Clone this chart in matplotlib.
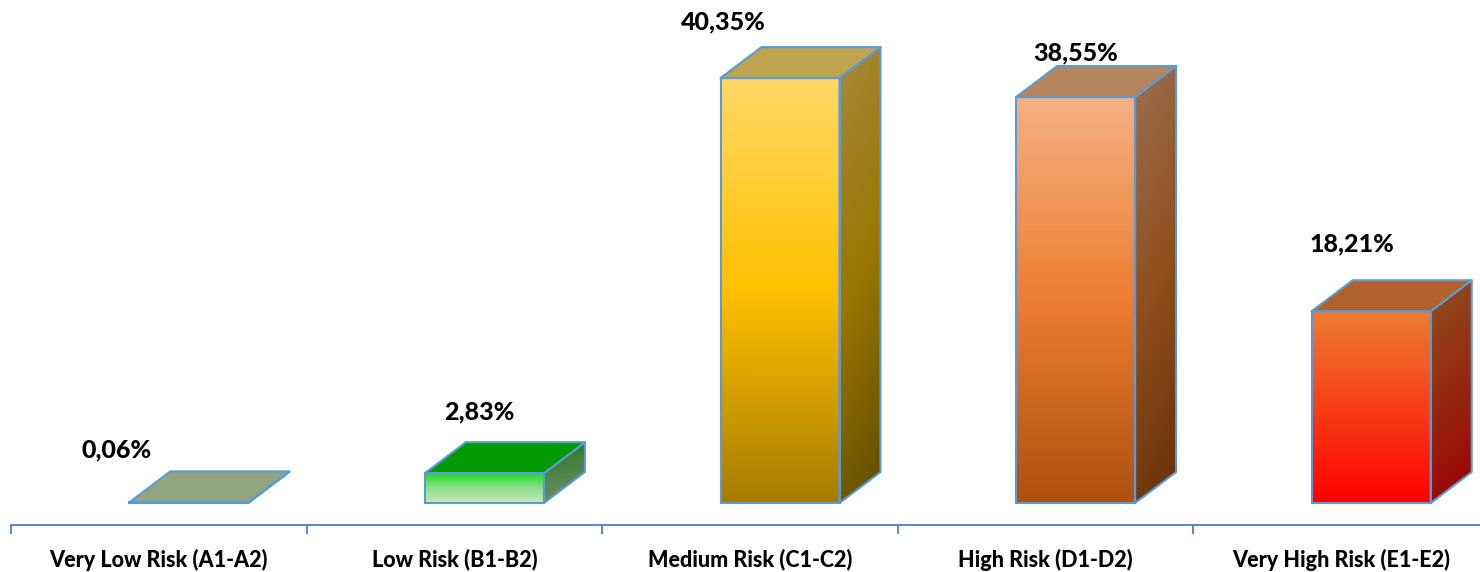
import numpy as np
import matplotlib
matplotlib.use('Agg')
import matplotlib.pyplot as plt
from matplotlib.colors import LinearSegmentedColormap
from matplotlib.patches import Polygon

plt.rcParams['font.family'] = ['Lato', 'DejaVu Sans']

categories = ["Very Low Risk (A1-A2)", "Low Risk (B1-B2)", "Medium Risk (C1-C2)",
              "High Risk (D1-D2)", "Very High Risk (E1-E2)"]
values = [0.06, 2.83, 40.35, 38.55, 18.21]
labels = ["0,06%", "2,83%", "40,35%", "38,55%", "18,21%"]

# Label offsets from the top of the front face, pixels
label_dx = [-72, -5, -57, 0, -19]
label_dy = [53, 61, 56, 44, 67]

# Colours
top_colors = ["#92a57e", "#009a00", "#c0a34f", "#b5855f", "#b1622b"]
front_colors = [["#92a57e", "#92a57e"],
                ["#1fd81f", "#8fdf8f", "#c8e6b8"],
                ["#ffd966", "#ffc000", "#a67c00"],
                ["#f4b183", "#ed7d31", "#ae5010"],
                ["#ed7d31", "#ff0000"]]
side_colors = [["#92a57e", "#92a57e"],
               ["#1f7a1f", "#7f8f70"],
               ["#a48a3c", "#9a7600", "#5f4c00"],
               ["#9c6f4f", "#8f4f1e", "#663009"],
               ["#8f5020", "#9c0000"]]
edge_color = "#5b9bd5"
axis_color = "#4472c4"

W, H = 1480, 572
px_per_unit = 10.53
cat_px = 295.6
base_px = 503
axis_px = 525

bar_w = 119 / cat_px
bar_shift = 30 / cat_px
depth_x = 41 / cat_px
depth_y = 31 / px_per_unit

fig = plt.figure(figsize=(W / 100, H / 100), dpi=100)
ax = fig.add_axes([11 / W, (H - axis_px) / H, 5 * cat_px / W, axis_px / H])

ymin = -(axis_px - base_px) / px_per_unit
ymax = base_px / px_per_unit


def gradient(colors, extent, clip, tilt=0.0):
    cmap = LinearSegmentedColormap.from_list('g', colors)
    u, v = np.meshgrid(np.linspace(0, 1, 80), np.linspace(0, 1, 256))
    t = (1 - tilt) * v + tilt * u
    im = ax.imshow(t, cmap=cmap, vmin=0, vmax=1, extent=extent, origin='upper',
                   aspect='auto', interpolation='bilinear', zorder=2)
    im.set_clip_path(clip)


xs = np.arange(len(values)) + 0.5 + bar_shift
for i, (x, val) in enumerate(zip(xs, values)):
    x0 = x - bar_w / 2
    x1 = x + bar_w / 2

    # side face
    side = Polygon([(x1, 0), (x1 + depth_x, depth_y), (x1 + depth_x, val + depth_y), (x1, val)],
                   closed=True, facecolor='none', edgecolor=edge_color, lw=1.5,
                   joinstyle='round', zorder=3)
    ax.add_patch(side)
    gradient(side_colors[i], [x1, x1 + depth_x, 0, val + depth_y], side, tilt=0.15)

    # top face
    ax.add_patch(Polygon([(x0, val), (x0 + depth_x, val + depth_y),
                          (x1 + depth_x, val + depth_y), (x1, val)],
                         closed=True, facecolor=top_colors[i], edgecolor=edge_color,
                         lw=1.5, joinstyle='round', zorder=3))

    # front face
    front = ax.bar(x, val, bar_w, facecolor='none', edgecolor=edge_color, lw=1.5, zorder=4)[0]
    gradient(front_colors[i], [x0, x1, 0, val], front)

    ax.annotate(labels[i], xy=(x, val), xytext=(label_dx[i], label_dy[i]),
                textcoords='offset pixels', ha='center', va='center',
                fontsize=18, fontweight=900, color='black', zorder=5)

ax.set_xlim(0, 5)
ax.set_ylim(ymin, ymax)
ax.patch.set_visible(False)
for s in ['top', 'left', 'right']:
    ax.spines[s].set_visible(False)
ax.spines['bottom'].set_color(axis_color)
ax.spines['bottom'].set_linewidth(1.2)
ax.set_yticks([])
ax.set_xticks(np.arange(0, 6))
ax.set_xticklabels([])
ax.tick_params(axis='x', length=6.5, width=1.2, color=axis_color)
ax.set_xticks(np.arange(len(categories)) + 0.5, minor=True)
ax.set_xticklabels(categories, minor=True, fontsize=15.5, fontweight=900, color='black')
ax.tick_params(axis='x', which='minor', length=0, pad=17)

fig.savefig('out.png', dpi=100)
